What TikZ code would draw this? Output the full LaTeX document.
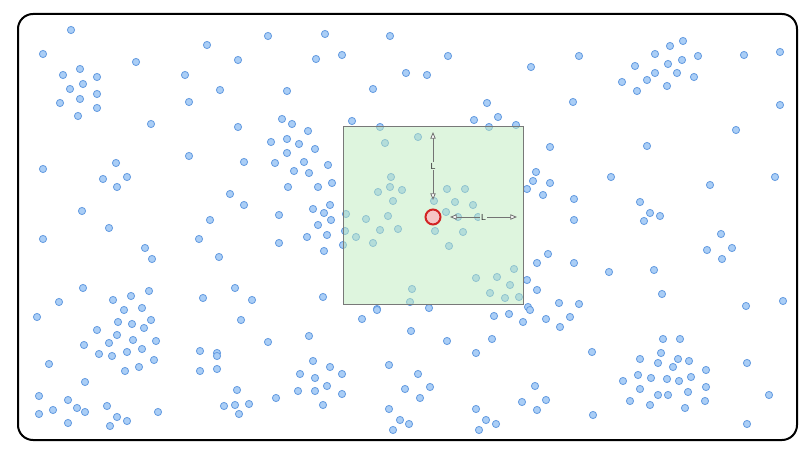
\documentclass[tikz,border=0pt]{standalone}
\usepackage{fontspec}
\setsansfont{Liberation Sans}
\usetikzlibrary{arrows.meta}

\definecolor{ptfill}{RGB}{170,206,246}
\definecolor{ptline}{RGB}{100,155,224}
\definecolor{zonefill}{RGB}{190,236,190}
\definecolor{zonebg}{RGB}{223,245,223}
\definecolor{zoneline}{RGB}{120,120,120}
\definecolor{agentfill}{RGB}{245,197,197}
\definecolor{agentline}{RGB}{210,35,35}
\definecolor{spanline}{RGB}{115,115,115}

\begin{document}
\begin{tikzpicture}[x=0.3mm, y=-0.3mm,
  pt/.style={circle, draw=ptline, fill=ptfill, line width=0.25mm, minimum size=2.15mm, inner sep=0pt},
  zone/.style={draw=zoneline, line width=0.3mm, fill=zonefill, fill opacity=0.5, minimum width=54mm, minimum height=53.4mm, inner sep=0pt},
  agent/.style={circle, draw=agentline, fill=agentfill, line width=0.6mm, minimum size=4.5mm, inner sep=0pt},
  span/.style={{Triangle[fill=white, length=2mm, width=1.6mm]}-{Triangle[fill=white, length=2mm, width=1.6mm]}, draw=spanline, line width=0.25mm},
  note/.style={font=\sffamily\fontsize{7.5}{8}\selectfont, text=black!80, fill=zonebg, inner sep=1pt},
  frame/.style={draw=black, line width=0.6mm, rounded corners=4.5mm},
]
\useasboundingbox (0,0) rectangle (800,449);
\draw[frame] (18,14) rectangle (797,440);

% scattered points
\foreach \px/\py [count=\i] in {
  71/30, 43/54, 136/62, 63/75, 80/69, 97/77, 83/84, 70/89, 97/94, 80/99, 60/103, 97/108, 78/116,
  185/75, 189/102, 151/124, 189/156, 43/169, 116/163, 127/177, 103/179, 117/187, 82/211, 109/228,
  207/45, 268/36, 325/34, 390/36, 238/60, 316/59, 342/55, 220/90, 287/91, 373/89,
  238/127, 282/119, 292/124, 308/131, 352/121, 380/127, 271/142, 287/139, 299/144, 315/149, 287/153,
  385/143, 244/162, 275/163, 304/162, 328/165, 294/171, 309/173, 391/177, 288/187, 318/187, 332/183,
  378/192, 390/187, 393/201, 402/190, 230/194, 244/205, 330/205, 313/209, 324/213, 346/214, 366/219,
  388/216, 210/220, 279/215, 331/220, 318/225,
  474/120, 489/127, 516/125, 418/137, 447/189, 465/189, 434/201, 455/202, 473/205, 446/212, 458/217,
  478/217, 527/189, 345/231, 380/230, 398/229, 356/237, 373/243, 343/245, 435/231, 463/232, 449/246,
  514/269, 497/277, 476/278, 510/285, 490/293, 505/298, 519/297, 527/280, 412/289, 410/302, 377/309,
  429/308, 528/307,
  448/56, 406/73, 427/75, 531/67, 579/56, 487/103, 573/102, 498/117, 550/147, 536/172, 533/181,
  550/183, 543/195, 574/199, 574/220,
  683/41, 670/46, 655/54, 698/56, 635/66, 682/60, 668/64, 655/73, 677/73, 694/77, 647/80, 622/82,
  637/91, 667/86, 744/55, 780/52, 780/105, 736/130, 647/146, 611/177, 710/185, 775/177, 640/202,
  650/213, 660/216, 644/221,
  43/239, 145/248, 152/259, 199/239, 83/288, 59/302, 37/317, 113/300, 131/296, 149/291, 124/310,
  142/308, 118/322, 132/324, 151/320, 144/328, 97/330, 117/335, 133/340, 156/341, 109/343, 84/345,
  99/354, 112/356, 127/352, 142/349, 154/360, 125/371, 139/367, 49/364, 85/382, 200/351, 203/298,
  200/371, 39/396, 68/400, 53/410, 39/414, 77/408, 85/412, 68/423, 107/406, 117/417, 127/421,
  110/426, 158/412,
  279/243, 307/237, 327/235, 324/251, 219/257, 235/288, 252/300, 323/297, 241/320, 377/310, 362/319,
  309/336, 268/342, 217/353, 217/356, 217/369, 313/361, 330/367, 342/374, 300/374, 315/378, 327/386,
  298/391, 315/391, 342/394, 323/405, 389/365, 237/390, 224/406, 235/405, 249/404, 239/414, 276/398,
  389/409, 400/420, 393/430,
  548/254, 537/263, 574/263, 537/290, 559/303, 579/304, 530/310, 494/316, 509/314, 523/322, 546/319,
  570/317, 560/327, 411/331, 447/341, 492/339, 476/353, 592/352, 418/374, 405/389, 430/387, 420/398,
  409/424, 535/386, 522/402, 546/400, 537/410, 476/409, 486/420, 496/424, 479/430, 593/415,
  721/234, 707/250, 732/248, 722/259, 609/272, 654/270, 662/294, 746/306, 783/301, 663/339, 680/339,
  661/353, 640/359, 658/363, 678/359, 689/361, 673/367, 706/370, 638/375, 651/378, 667/379, 679/381,
  691/377, 623/381, 640/389, 706/387, 658/395, 668/395, 688/392, 630/401, 650/405, 685/408, 705/401,
  747/363, 769/395, 747/424}
  \node[pt] (p\i) at (\px,\py) {};

% neighbourhood and agent
\node[zone] (box) at (433,216) {};
\node[agent] (ego) at (433,217) {};

\coordinate (vtop) at (433,132);
\coordinate (vbot) at (433,200);
\coordinate (hleft) at (450,217);
\coordinate (hright) at (517,217);

\draw[span] (vtop) -- (vbot) node[midway, note] {L};
\draw[span] (hleft) -- (hright) node[midway, note] {L};
\end{tikzpicture}
\end{document}
